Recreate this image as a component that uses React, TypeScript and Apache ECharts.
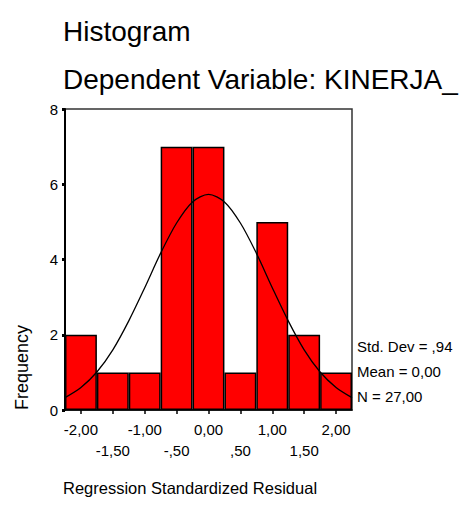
import React, { useEffect, useRef } from "react";
import * as echarts from "echarts";

const binLabels = ["-2,00", "-1,50", "-1,00", "-,50", "0,00", ",50", "1,00", "1,50", "2,00"];
const frequencies = [2, 1, 1, 7, 7, 1, 5, 2, 1];
const curveX = [-2.25, -2, -1.75, -1.5, -1.25, -1, -0.75, -0.5, -0.25, 0, 0.25, 0.5, 0.75, 1, 1.25, 1.5, 1.75, 2, 2.25];
const curveY = [0.33, 0.6, 1.01, 1.6, 2.37, 3.25, 4.17, 4.97, 5.53, 5.73, 5.53, 4.97, 4.17, 3.25, 2.37, 1.6, 1.01, 0.6, 0.33];
const yTicks = { min: 0, max: 8, interval: 2 };
const statLines = ["Std. Dev = ,94", "Mean = 0,00", "N = 27,00"];
const titleText = "Histogram";
const subtitleText = "Dependent Variable: KINERJA_";
const xName = "Regression Standardized Residual";
const yName = "Frequency";

const FONT = "'Liberation Sans', Arial, sans-serif";

export default function App() {
  const ref = useRef<HTMLDivElement>(null);
  useEffect(() => {
    if (!ref.current) return;
    const chart = echarts.init(ref.current, undefined, { renderer: "svg" });
    chart.setOption({
      animation: false,
      backgroundColor: "#ffffff",
      textStyle: { fontFamily: FONT },
      grid: {
        left: 65,
        right: 112,
        top: 109,
        bottom: 104,
        show: true,
        borderColor: "#333333",
        borderWidth: 1.5,
        backgroundColor: "transparent",
      },
      xAxis: [
        {
          type: "category",
          data: binLabels,
          boundaryGap: true,
          axisLine: { show: true, onZero: false, lineStyle: { color: "#000", width: 1.5 } },
          axisTick: { show: true, alignWithLabel: true, length: 4, lineStyle: { color: "#000", width: 1.5 } },
          axisLabel: {
            interval: 0,
            fontSize: 15,
            color: "#000",
            fontFamily: FONT,
            margin: 9,
            lineHeight: 21,
            formatter: (v: string, i: number) => (i % 2 ? "\n" + v : v),
          },
          splitLine: { show: false },
        },
        {
          type: "value",
          min: -2.25,
          max: 2.25,
          show: false,
          axisLine: { onZero: false },
        },
      ],
      yAxis: {
        type: "value",
        min: yTicks.min,
        max: yTicks.max,
        interval: yTicks.interval,
        axisLine: { show: true, onZero: false, lineStyle: { color: "#000", width: 2 } },
        axisTick: { show: true, length: 3, lineStyle: { color: "#000", width: 3 } },
        axisLabel: { fontSize: 15, color: "#000", fontFamily: FONT, margin: 7 },
        splitLine: { show: false },
      },
      series: [
        {
          type: "bar",
          xAxisIndex: 0,
          data: frequencies,
          barCategoryGap: "0%",
          itemStyle: { color: "#ff0000", borderColor: "#000", borderWidth: 1.5 },
        },
        {
          type: "line",
          xAxisIndex: 1,
          data: curveX.map((x, i) => [x, curveY[i]]),
          symbol: "none",
          smooth: 0.3,
          lineStyle: { color: "#000", width: 1.3 },
          z: 5,
        },
      ],
      graphic: [
        { type: "text", left: 63, top: 17, style: { text: titleText, fontSize: 28, fontFamily: FONT, fill: "#000" } },
        { type: "text", left: 63, top: 65, style: { text: subtitleText, fontSize: 28, fontFamily: FONT, fill: "#000" } },
        ...statLines.map((t, i) => ({
          type: "text",
          left: 357,
          top: 339 + i * 25,
          style: { text: t, fontSize: 15, fontFamily: FONT, fill: "#000" },
        })),
        {
          type: "text",
          x: 13,
          y: 410,
          rotation: Math.PI / 2,
          style: { text: yName, fontSize: 18, fontFamily: FONT, fill: "#000", textAlign: "left", textVerticalAlign: "top" },
        },
        { type: "text", left: 63, top: 479, style: { text: xName, fontSize: 16.5, fontFamily: FONT, fill: "#000" } },
      ],
    });
    return () => chart.dispose();
  }, []);
  return <div ref={ref} style={{ position: "absolute", left: 0, top: 0, width: 464, height: 514 }} />;
}
